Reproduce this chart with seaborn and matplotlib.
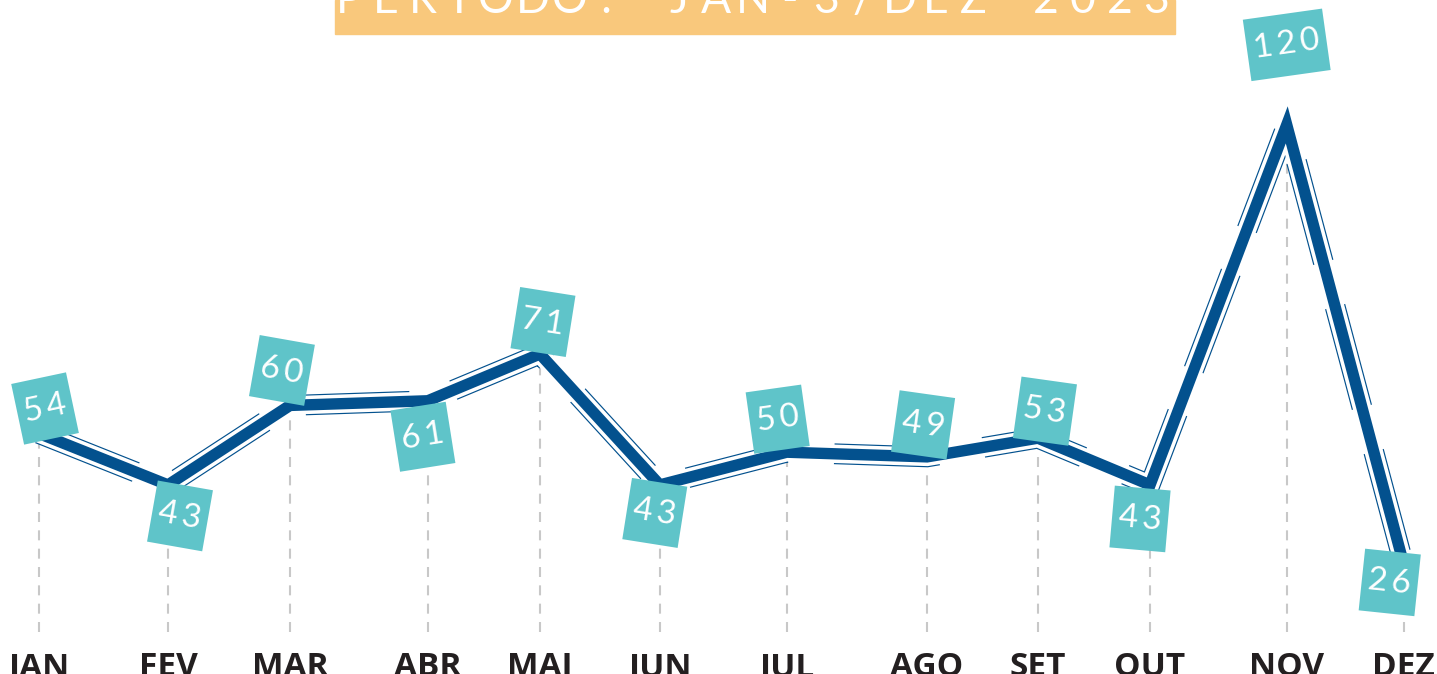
import numpy as np
import pandas as pd
import matplotlib
matplotlib.use("Agg")
import matplotlib.pyplot as plt
import seaborn as sns
from matplotlib.patches import Rectangle
from matplotlib.transforms import Affine2D

# ---------- DATA ----------
months = ["JAN", "FEV", "MAR", "ABR", "MAI", "JUN", "JUL", "AGO", "SET", "OUT", "NOV", "DEZ"]
month_pos = [0, 1.047, 2.037, 3.157, 4.067, 5.04, 6.07, 7.21, 8.11, 9.02, 10.13, 11.08]
values = [54, 43, 60, 61, 71, 43, 50, 49, 53, 43, 120, 26]
title_text = "PERÍODO: JAN-3/DEZ 2023"

# label box placement (offset in px from the point) and tilt in degrees
label_offsets = [(6, 25), (12, -31), (-8, 35), (-5, -36), (3, 32), (-5, -28),
                 (-9, 33), (-4, 32), (7, 27), (-10, -34), (0, 80), (-14, -18)]
label_tilts = [12, -10, -10, 9, -9, -9, 8, -8, -8, -5, 8, -6]

LINE = "#03518E"
TEAL = "#5FC4C9"
BANNER = "#F9C87C"
GRID = "#C8C8C8"
TXT = "#231F20"

df = pd.DataFrame({"month": months, "pos": month_pos, "value": values})

sns.set_theme(style="white")
plt.rcParams["font.family"] = ["Lato", "DejaVu Sans"]

fig = plt.figure(figsize=(14.37, 6.74), dpi=100)
ax = fig.add_axes([0, 42 / 674, 1, 632 / 674])
ax.set_xlim(-0.317, 11.35)
ax.set_ylim(11.55, 146.7)

# dashed drop lines
ax.vlines(df["pos"], ax.get_ylim()[0], df["value"], colors=GRID, linewidth=1.5,
          linestyles=(0, (4.8, 4)), zorder=1)

# sketchy double outline + main line
sns.lineplot(data=df, x="pos", y="value", ax=ax, sort=False, color=LINE, linewidth=15,
             linestyle=(0, (5, 2.2)), dash_capstyle="butt", dash_joinstyle="miter", zorder=2)
sns.lineplot(data=df, x="pos", y="value", ax=ax, sort=False, color="white", linewidth=13.3,
             solid_joinstyle="miter", solid_capstyle="butt", zorder=3)
sns.lineplot(data=df, x="pos", y="value", ax=ax, sort=False, color=LINE, linewidth=8.2,
             solid_joinstyle="miter", solid_capstyle="butt", zorder=4)

# value boxes (tilted squares with the number)
for x, v, (dx, dy), rot in zip(df["pos"], df["value"], label_offsets, label_tilts):
    label = str(v)
    w, h = (56, 62) if len(label) < 3 else (80, 62)
    px, py = ax.transData.transform((x, v))
    tr = Affine2D().rotate_deg(rot).translate(px + dx, py + dy)
    ax.add_patch(Rectangle((-w / 2, -h / 2), w, h, transform=tr, fc=TEAL, ec="none",
                           zorder=5, clip_on=False))
    ax.annotate("\u2009".join(label), xy=(x, v), xytext=(dx * 0.72, dy * 0.72),
                textcoords="offset points", ha="center", va="center", rotation=rot,
                rotation_mode="anchor", fontsize=24, fontweight="normal",
                color="white", zorder=6)

ax.set_xticks(month_pos)
ax.set_xticklabels(months, fontsize=24, fontweight="bold", color=TXT,
                   family=["Open Sans", "DejaVu Sans"])
ax.tick_params(axis="x", length=0, pad=14)
ax.set_yticks([])
ax.set_xlabel("")
ax.set_ylabel("")
sns.despine(ax=ax, left=True, bottom=True)

# cropped title banner
fig.patches.append(Rectangle((335 / 1437, 1 - 34 / 674), 840 / 1437, 34 / 674,
                             transform=fig.transFigure, color=BANNER, zorder=0))
for i, ch in enumerate(title_text):
    fig.text((349 + 36.7 * i) / 1437, 1 - 13 / 674, ch, ha="center", va="baseline",
             fontsize=32, fontweight="normal", color="white")

fig.savefig("out.png", dpi=100)
